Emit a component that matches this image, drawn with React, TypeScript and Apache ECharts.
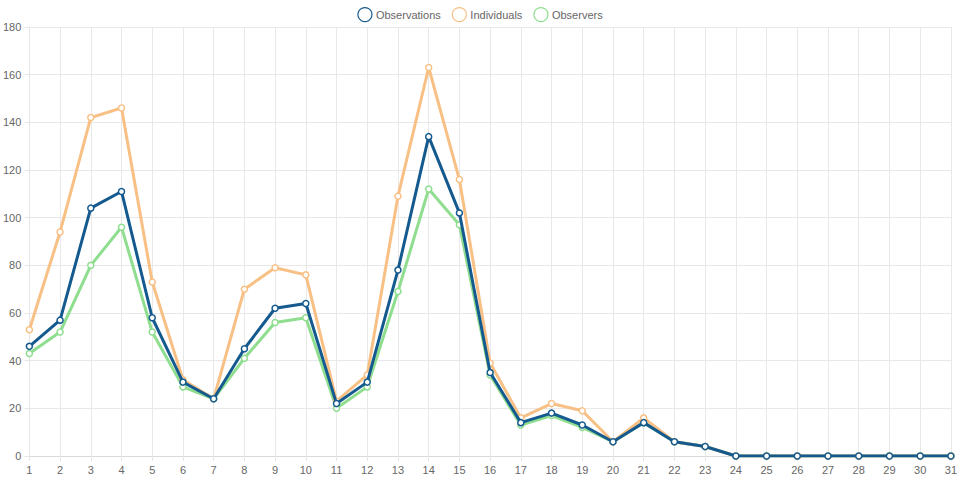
import React, { useEffect, useRef } from "react";
import * as echarts from "echarts";

const days = Array.from({ length: 31 }, (_, i) => String(i + 1));
const observations = [46, 57, 104, 111, 58, 31, 24, 45, 62, 64, 22, 31, 78, 134, 102, 35, 14, 18, 13, 6, 14, 6, 4, 0, 0, 0, 0, 0, 0, 0, 0];
const individuals = [53, 94, 142, 146, 73, 32, 24, 70, 79, 76, 23, 34, 109, 163, 116, 39, 16, 22, 19, 6, 16, 6, 4, 0, 0, 0, 0, 0, 0, 0, 0];
const observers = [43, 52, 80, 96, 52, 29, 24, 41, 56, 58, 20, 29, 69, 112, 97, 34, 13, 17, 12, 6, 14, 6, 4, 0, 0, 0, 0, 0, 0, 0, 0];

const BLUE = "#155a8f";
const ORANGE = "#f8c084";
const GREEN = "#8fde8f";
const FONT = "Arial, 'Liberation Sans', Helvetica, sans-serif";

function mk(name: string, data: number[], color: string, z: number) {
  return {
    name,
    type: "line",
    data,
    z,
    symbol: "circle",
    symbolSize: 6,
    showSymbol: true,
    lineStyle: { color, width: 3 },
    itemStyle: { color: "#ffffff", borderColor: color, borderWidth: 1.5 },
    emphasis: { disabled: true },
  };
}

export default function App() {
  const ref = useRef<HTMLDivElement>(null);
  useEffect(() => {
    document.body.style.margin = "0";
    const chart = echarts.init(ref.current!, null, { renderer: "svg" });
    chart.setOption({
      animation: false,
      backgroundColor: "#ffffff",
      textStyle: { fontFamily: FONT },
      legend: {
        top: 2,
        left: "center",
        icon: "circle",
        itemWidth: 14,
        itemHeight: 14,
        itemGap: 11,
        textStyle: { color: "#666", fontSize: 11, fontFamily: FONT, padding: [0, 0, 0, -1] },
        data: [
          { name: "Observations", itemStyle: { color: "#fff", borderColor: BLUE, borderWidth: 1.2 } },
          { name: "Individuals", itemStyle: { color: "#fff", borderColor: ORANGE, borderWidth: 1.2 } },
          { name: "Observers", itemStyle: { color: "#fff", borderColor: GREEN, borderWidth: 1.2 } },
        ],
      },
      grid: { left: 29, right: 8, top: 27, bottom: 24, containLabel: false },
      xAxis: {
        type: "category",
        data: days,
        boundaryGap: false,
        axisLine: { show: true, lineStyle: { color: "#d9d9d9" } },
        axisTick: { show: true, alignWithLabel: true, length: 5, lineStyle: { color: "#e6e6e6" } },
        axisLabel: { color: "#666", fontSize: 11, margin: 8, fontFamily: FONT },
        splitLine: { show: true, lineStyle: { color: "#e8e8e8" } },
      },
      yAxis: {
        type: "value",
        min: 0,
        max: 180,
        interval: 20,
        axisLine: { show: true, lineStyle: { color: "#e6e6e6" } },
        axisTick: { show: true, length: 5, lineStyle: { color: "#e6e6e6" } },
        axisLabel: { color: "#666", fontSize: 11, margin: 8, fontFamily: FONT },
        splitLine: { show: true, lineStyle: { color: "#e8e8e8" } },
      },
      series: [
        mk("Observations", observations, BLUE, 5),
        mk("Individuals", individuals, ORANGE, 4),
        mk("Observers", observers, GREEN, 3),
      ],
    });
    return () => chart.dispose();
  }, []);
  return <div ref={ref} style={{ width: 960, height: 480 }} />;
}
